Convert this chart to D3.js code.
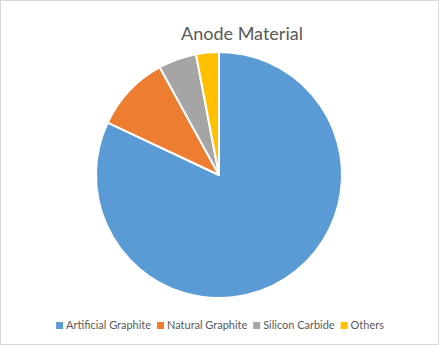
<!DOCTYPE html>
<html>
<head>
<meta charset="utf-8">
<script src="https://cdn.jsdelivr.net/npm/d3@7"></script>
<style>
  body { margin: 0; background: #fff; }
  svg { display: block; font-family: Lato, "Open Sans", sans-serif; }
</style>
</head>
<body>
<div id="chart"></div>
<script>
// 439 x 345
var categories = ["Artificial Graphite", "Natural Graphite", "Silicon Carbide", "Others"];
var values = [82, 10, 5, 3];
var colors = ["#5b9bd5", "#ed7d31", "#a5a5a5", "#ffc000"];

var width = 439, height = 345;

var svg = d3.select("#chart").append("svg")
    .attr("width", width)
    .attr("height", height);

// chart border
svg.append("rect")
    .attr("x", 0.5).attr("y", 0.5)
    .attr("width", width - 1).attr("height", height - 1)
    .attr("fill", "#fff")
    .attr("stroke", "#d9d9d9");

svg.append("text")
    .attr("x", 242)
    .attr("y", 40)
    .attr("text-anchor", "middle")
    .attr("font-size", "18px")
    .attr("fill", "#595959")
    .text("Anode Material");

var data = categories.map((c, i) => ({ name: c, value: values[i], color: colors[i] }));

var pie = d3.pie().sort(null).value(d => d.value);
var arc = d3.arc().innerRadius(0).outerRadius(123);

var g = svg.append("g").attr("transform", "translate(219,175)");

g.selectAll("path")
    .data(pie(data))
    .enter()
    .append("path")
        .attr("d", arc)
        .attr("fill", d => d.data.color)
        .attr("stroke", "#fff")
        .attr("stroke-width", 2)
        .attr("stroke-linejoin", "round");

// legend
var legend = svg.append("g").attr("fill", "#595959");
var items = legend.selectAll("g")
    .data(data)
    .enter()
    .append("g");

items.append("rect")
    .attr("width", 7).attr("height", 7)
    .attr("y", -7)
    .attr("fill", d => d.color);

var labels = items.append("text")
    .attr("x", 10)
    .attr("y", 0)
    .attr("font-size", "12px")
    .text(d => d.name);

// fit font so the first label is about 85px wide, like the original
var w0 = labels.node().getComputedTextLength();
labels.attr("font-size", (12 * 85 / w0) + "px");

var x = 0, positions = [];
items.each(function(d) {
    var w = d3.select(this).select("text").node().getComputedTextLength();
    positions.push(x);
    x += 10 + w + 6;
});
var total = x - 6;
var start = 220 - total / 2;
items.attr("transform", (d, i) => "translate(" + (start + positions[i]) + ",329)");
</script>
</body>
</html>
